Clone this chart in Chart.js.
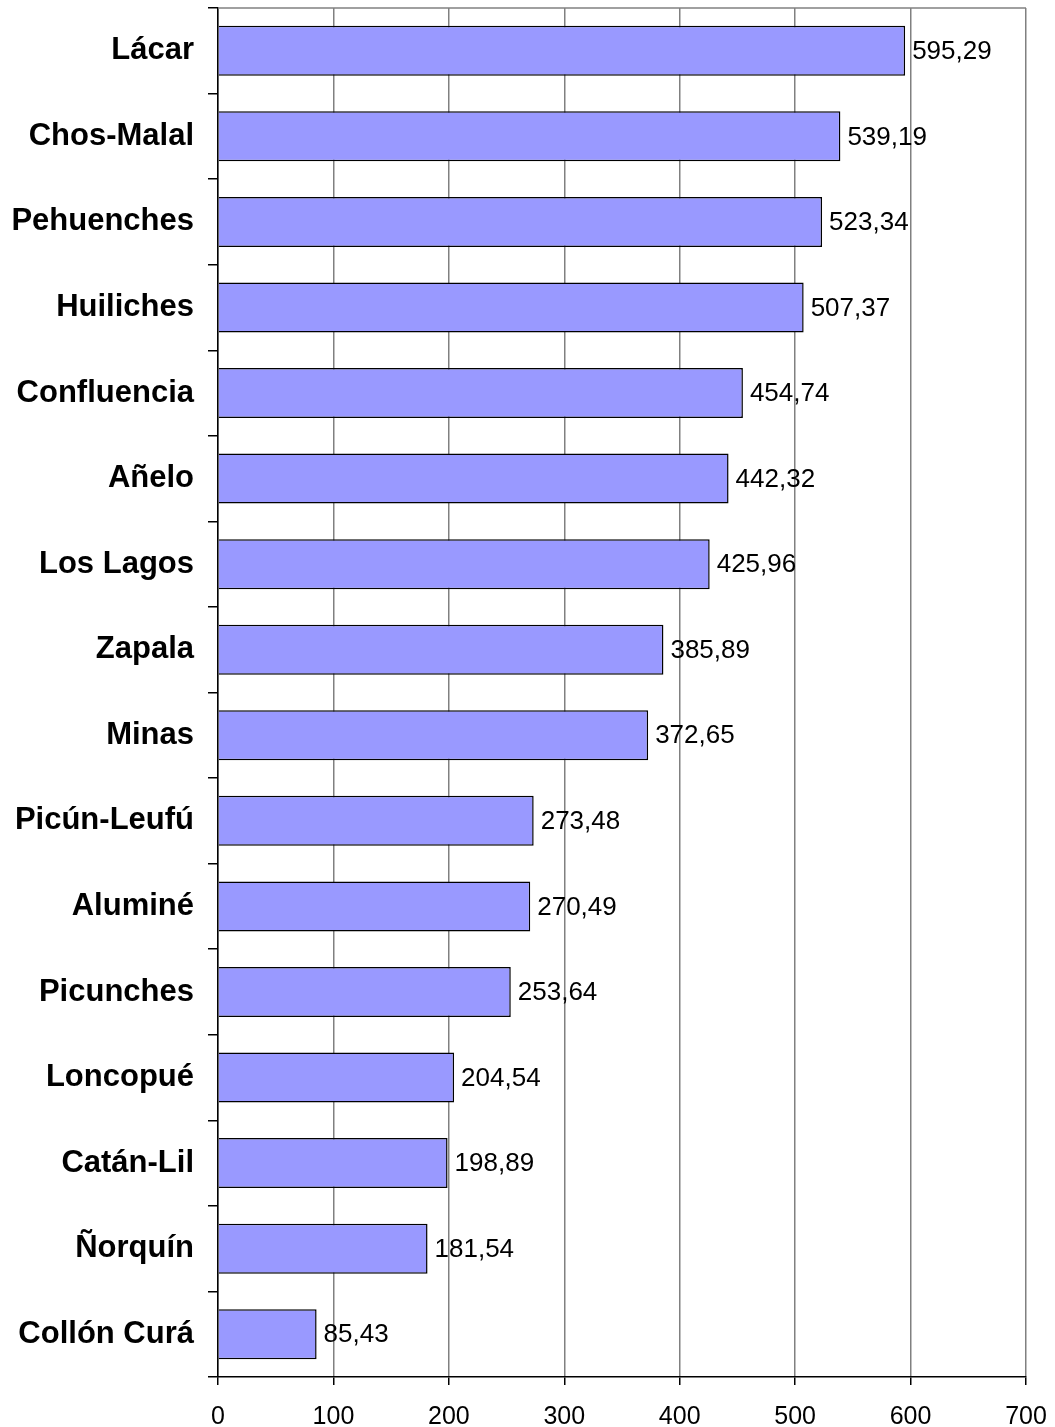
<!DOCTYPE html>
<html>
<head>
<meta charset="utf-8">
<script src="https://cdn.jsdelivr.net/npm/chart.js@4/dist/chart.umd.min.js"></script>
<style>
html,body{margin:0;padding:0;background:#fff;}
#wrap{width:1055px;height:1427px;position:relative;}
</style>
</head>
<body>
<div id="wrap"><canvas id="c"></canvas></div>
<script>
const categories = ["Lácar","Chos-Malal","Pehuenches","Huiliches","Confluencia","Añelo","Los Lagos","Zapala","Minas","Picún-Leufú","Aluminé","Picunches","Loncopué","Catán-Lil","Ñorquín","Collón Curá"];
const values = [595.29,539.19,523.34,507.37,454.74,442.32,425.96,385.89,372.65,273.48,270.49,253.64,204.54,198.89,181.54,85.43];
const xTicks = [0,100,200,300,400,500,600,700];

const valueLabels = {
  id:'valueLabels',
  afterDatasetsDraw(chart){
    const ctx = chart.ctx;
    const meta = chart.getDatasetMeta(0);
    ctx.save();
    ctx.font = '26px "Liberation Sans", Arial, sans-serif';
    ctx.fillStyle = '#000';
    ctx.textAlign = 'left';
    ctx.textBaseline = 'middle';
    meta.data.forEach((bar,i)=>{
      const txt = values[i].toFixed(2).replace('.',',');
      ctx.fillText(txt, bar.x + 7, bar.y + 1);
    });
    ctx.restore();
  }
};
const topBorder = {
  id:'topBorder',
  afterDraw(chart){
    const a = chart.chartArea, ctx = chart.ctx;
    ctx.save();
    ctx.strokeStyle = '#808080';
    ctx.lineWidth = 1.5;
    ctx.beginPath();
    ctx.moveTo(a.left, a.top);
    ctx.lineTo(a.right, a.top);
    ctx.stroke();
    ctx.restore();
  }
};

new Chart(document.getElementById('c'), {
  type:'bar',
  data:{
    labels: categories,
    datasets:[{
      data: values,
      backgroundColor:'#9999ff',
      borderColor:'#000',
      borderWidth:1.5,
      barPercentage:0.585,
      categoryPercentage:1
    }]
  },
  options:{
    indexAxis:'y',
    responsive:true,
    maintainAspectRatio:false,
    animation:false,
    layout:{padding:{left:0,top:8,right:29,bottom:0}},
    plugins:{legend:{display:false},tooltip:{enabled:false}},
    scales:{
      x:{
        min:0,max:700,
        afterBuildTicks(s){ s.ticks = xTicks.map(v=>({value:v})); },
        afterFit(s){ s.height = 50; s.paddingLeft = 0; s.paddingRight = 0; },
        grid:{color:'#808080',lineWidth:1.5,tickLength:8,tickColor:'#000'},
        border:{color:'#000',width:1.5},
        ticks:{color:'#000',font:{family:'"Liberation Sans", Arial, sans-serif',size:25},padding:17,maxRotation:0}
      },
      y:{
        afterFit(s){ s.width = 218; s.paddingTop = 0; s.paddingBottom = 0; },
        grid:{drawOnChartArea:false,offset:true,tickLength:10,color:'#000',lineWidth:1.5},
        border:{color:'#000',width:1.5},
        ticks:{color:'#000',font:{family:'"Liberation Sans", Arial, sans-serif',size:31,weight:'bold'},padding:14}
      }
    }
  },
  plugins:[valueLabels, topBorder]
});
</script>
</body>
</html>
